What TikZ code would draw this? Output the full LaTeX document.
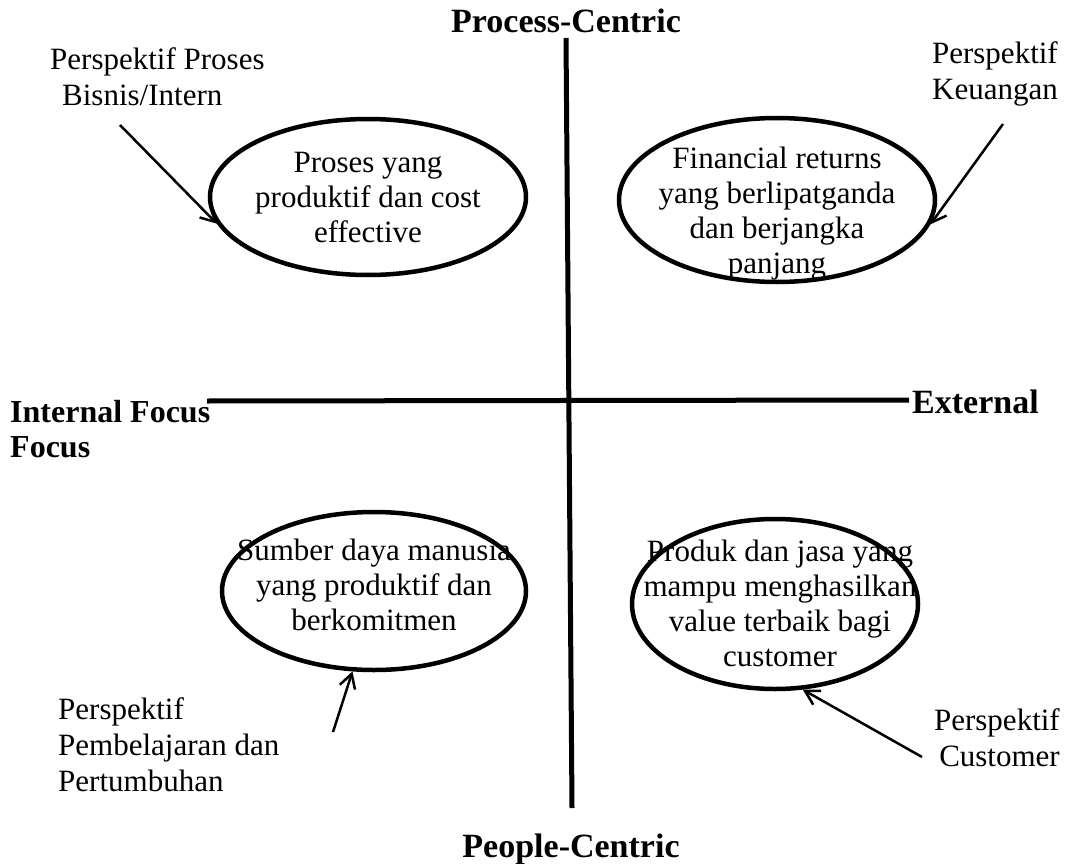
\documentclass[tikz,border=0pt]{standalone}
\usepackage{fontspec}
\setmainfont{Liberation Serif}
\usetikzlibrary{shapes.geometric,arrows.meta}
\begin{document}
\begin{tikzpicture}[x=1pt,y=-1pt,
  axis/.style={line width=5pt},
  oval/.style={draw,ellipse,line width=4.5pt,inner sep=0pt},
  body/.style={font=\fontsize{31}{35}\selectfont,align=center,inner sep=0pt},
  head/.style={font=\fontsize{34}{36}\selectfont\bfseries,inner sep=0pt},
  lbl/.style={font=\fontsize{31}{36}\selectfont,inner sep=0pt},
  pointer/.style={line width=2.5pt,-{Straight Barb[length=14pt,width=16pt,line width=2.5pt]}}]
\useasboundingbox (0,0) rectangle (1076,864);

% quadrant axes
\coordinate (vtop) at (566,38);
\coordinate (vbot) at (572,808);
\coordinate (hleft) at (207,401);
\coordinate (hright) at (909,400);
\draw[axis] (vtop) -- (vbot);
\draw[axis] (hleft) -- (hright);

% axis titles
\node[head,anchor=base] (pc) at (566,33) {Process-Centric};
\node[head,anchor=base] (pp) at (571,857) {People-Centric};
\node[head,font=\fontsize{32}{36}\selectfont\bfseries,anchor=base west] (inf) at (10,422) {Internal Focus};
\node[head,font=\fontsize{32}{36}\selectfont\bfseries,anchor=base west] (inf2) at (10,457) {Focus};
\node[head,anchor=base west] (ext) at (912,413) {External};

% the four perspectives
\node[oval,minimum width=316pt,minimum height=156pt] (e1) at (368,197) {};
\node[body] (t1) at (368,198) {Proses yang\\produktif dan cost\\effective};

\node[oval,minimum width=316pt,minimum height=164pt] (e2) at (777,200) {};
\node[body] (t2) at (777,214) {Financial returns\\yang berlipatganda\\dan berjangka\\panjang};

\node[oval,minimum width=304pt,minimum height=158pt] (e3) at (374,591) {};
\node[body] (t3) at (374,585) {Sumber daya manusia\\yang produktif dan\\berkomitmen};

\node[oval,minimum width=286pt,minimum height=170pt] (e4) at (775,604) {};
\node[body] (t4) at (780,603) {Produk dan jasa yang\\mampu menghasilkan\\value terbaik bagi\\customer};

% perspective labels
\node[lbl,align=left,anchor=north west] (l1) at (50,47) {Perspektif Proses\\\hspace*{12pt}Bisnis/Intern};
\node[lbl,align=right,anchor=north east] (l2) at (1058,41) {Perspektif\\Keuangan};
\node[lbl,align=left,anchor=north west] (l3) at (58,697) {Perspektif\\Pembelajaran dan\\Pertumbuhan};
\node[lbl,align=right,anchor=north east] (l4) at (1060,708) {Perspektif\\Customer};

% pointers
\coordinate (s1) at (120,125);
\coordinate (s2) at (1003,124);
\coordinate (s3) at (333,732);
\coordinate (s4) at (922,757);
\draw[pointer] (s1) -- (e1.190);
\draw[pointer] (s2) -- (e2.351);
\draw[pointer] (s3) -- (e3.255);
\draw[pointer] (s4) -- (e4.288);
\end{tikzpicture}
\end{document}
